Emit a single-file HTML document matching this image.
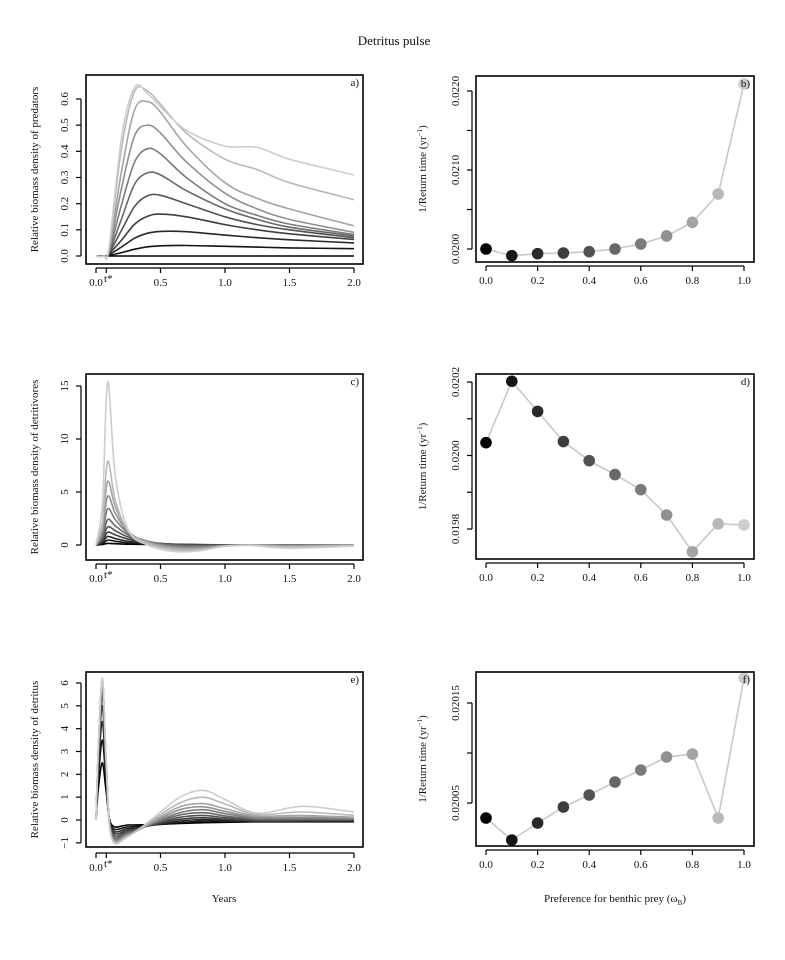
<!DOCTYPE html>
<html><head><meta charset="utf-8"><style>
html,body{margin:0;padding:0;background:#fff;}
svg text{font-family:"Liberation Serif",serif;fill:#111;}
</style></head><body>
<svg id="fig" width="785" height="955" viewBox="0 0 785 955" xmlns="http://www.w3.org/2000/svg">
<rect width="785" height="955" fill="#fff"/>
<text x="394" y="45" font-size="13" text-anchor="middle">Detritus pulse</text>
</svg>
<script>
// ---- data ----
const omegaB = [0,0.1,0.2,0.3,0.4,0.5,0.6,0.7,0.8,0.9,1.0];
const returnRateB = [0.020000,0.019916,0.019941,0.019949,0.019966,0.020000,0.020063,0.020165,0.020338,0.020696,0.022089];
const returnRateD = [0.020035,0.020202,0.020120,0.020038,0.019986,0.019948,0.019907,0.019838,0.019738,0.019814,0.019811];
const returnRateF = [0.020035,0.020013,0.020030,0.020046,0.020058,0.020071,0.020083,0.020096,0.020099,0.020035,0.020175];

const timesA = [0,0.06,0.1,0.2,0.3,0.4,0.5,0.7,1.0,1.25,1.5,2.0];
const predA = [
 [0,0,0,0,0,0,0,0,0,0,0,0],
 [0,0,0.002,0.013,0.026,0.035,0.039,0.040,0.037,0.034,0.031,0.028],
 [0,0,0.005,0.035,0.068,0.087,0.094,0.093,0.080,0.070,0.062,0.050],
 [0,0,0.008,0.062,0.122,0.152,0.160,0.150,0.120,0.100,0.085,0.063],
 [0,0,0.010,0.100,0.190,0.230,0.232,0.200,0.150,0.120,0.100,0.070],
 [0,0,0.012,0.145,0.275,0.318,0.310,0.250,0.180,0.140,0.110,0.077],
 [0,0,0.015,0.200,0.360,0.410,0.390,0.300,0.200,0.155,0.122,0.082],
 [0,0,0.018,0.265,0.460,0.500,0.470,0.360,0.240,0.180,0.140,0.090],
 [0,0,0.022,0.330,0.560,0.590,0.550,0.420,0.280,0.220,0.180,0.115],
 [0,0,0.028,0.420,0.630,0.630,0.580,0.470,0.370,0.330,0.280,0.215],
 [0,0,0.032,0.460,0.645,0.620,0.570,0.480,0.420,0.415,0.370,0.310]
];

const timesC = [0,0.05,0.09,0.15,0.25,0.4,0.6,0.8,1.0,1.2,1.5,2.0];
const detvC = [
 [0,0.05,0.15,0.12,0.08,0.05,0.03,0.02,0.01,0.01,0.01,0.01],
 [0,0.12,0.45,0.35,0.20,0.10,0.05,0.03,0.02,0.02,0.02,0.02],
 [0,0.25,0.80,0.60,0.35,0.18,0.08,0.03,0.02,0.02,0.02,0.02],
 [0,0.35,1.20,0.95,0.55,0.25,0.08,0.02,0.01,0.02,0.02,0.02],
 [0,0.50,1.70,1.35,0.75,0.30,0.05,-0.02,0.00,0.02,0.02,0.02],
 [0,0.70,2.40,1.80,0.95,0.35,0.00,-0.08,-0.02,0.02,0.00,0.02],
 [0,1.00,3.40,2.40,1.10,0.35,-0.10,-0.15,-0.05,0.02,-0.02,0.02],
 [0,1.30,4.60,3.00,1.20,0.30,-0.20,-0.25,-0.08,0.02,-0.05,0.01],
 [0,1.70,6.00,3.60,1.30,0.25,-0.30,-0.35,-0.10,0.00,-0.10,0.00],
 [0,2.20,7.90,4.20,1.30,0.15,-0.45,-0.45,-0.12,-0.02,-0.20,-0.05],
 [0,4.00,15.4,6.50,1.40,0.00,-0.60,-0.55,-0.10,-0.05,-0.30,-0.10]
];

const timesE = [0,0.02,0.05,0.08,0.12,0.25,0.45,0.65,0.83,1.0,1.25,1.6,2.0];
const detrE = [
 [0,1.5,2.5,1.2,-0.20,-0.22,-0.20,-0.15,-0.12,-0.10,-0.08,-0.08,-0.08],
 [0,2.0,3.5,1.5,-0.28,-0.30,-0.22,-0.12,-0.05,-0.06,-0.07,-0.07,-0.06],
 [0,2.5,4.3,1.8,-0.35,-0.38,-0.22,-0.05,0.02,-0.02,-0.05,-0.05,-0.04],
 [0,2.8,5.0,2.0,-0.42,-0.45,-0.20,0.03,0.10,0.03,-0.03,-0.02,-0.02],
 [0,3.0,5.5,2.2,-0.50,-0.50,-0.18,0.12,0.20,0.10,0.00,0.00,0.00],
 [0,3.2,5.8,2.3,-0.57,-0.55,-0.15,0.22,0.32,0.18,0.03,0.03,0.03],
 [0,3.3,6.0,2.4,-0.63,-0.60,-0.12,0.32,0.45,0.28,0.07,0.07,0.05],
 [0,3.4,6.1,2.4,-0.68,-0.65,-0.08,0.45,0.58,0.38,0.12,0.12,0.08],
 [0,3.4,6.2,2.5,-0.72,-0.68,-0.02,0.58,0.72,0.50,0.18,0.20,0.12],
 [0,3.5,6.2,2.5,-0.76,-0.70,0.05,0.75,1.00,0.70,0.25,0.35,0.20],
 [0,3.5,6.2,2.5,-0.80,-0.72,0.12,1.00,1.30,0.90,0.30,0.60,0.35]
];

const xTicksTime = [0,0.5,1.0,1.5,2.0];
const xTickLabelsTime = ["0.0","0.5","1.0","1.5","2.0"];
const xTicksOmega = [0,0.2,0.4,0.6,0.8,1.0];
const xTickLabelsOmega = ["0.0","0.2","0.4","0.6","0.8","1.0"];
const yTicksA = [0,0.1,0.2,0.3,0.4,0.5,0.6];
const yTickLabelsA = ["0.0","0.1","0.2","0.3","0.4","0.5","0.6"];
const yTicksC = [0,5,10,15];
const yTickLabelsC = ["0","5","10","15"];
const yTicksE = [-1,0,1,2,3,4,5,6];
const yTickLabelsE = ["\u22121","0","1","2","3","4","5","6"];
const yTicksB = [0.0200,0.0205,0.0210,0.0215,0.0220];
const yTickLabelsB = ["0.0200","","0.0210","","0.0220"];
const yTicksD = [0.0198,0.0199,0.0200,0.0201,0.0202];
const yTickLabelsD = ["0.0198","","0.0200","","0.0202"];
const yTicksF = [0.02005,0.02010,0.02015];
const yTickLabelsF = ["0.02005","","0.02015"];
const tStar = 0.08;

// ---- drawing ----
const svg = document.getElementById('fig');
const NS = 'http://www.w3.org/2000/svg';
function mk(tag, attrs, parent){
  const e = document.createElementNS(NS, tag);
  for (const k in attrs) e.setAttribute(k, attrs[k]);
  (parent||svg).appendChild(e);
  return e;
}
function lin(d0,d1,r0,r1){ return v => r0 + (v-d0)/(d1-d0)*(r1-r0); }
function grey(i){ const g = Math.round(i/10*205); return `rgb(${g},${g},${g})`; }
function smoothPath(pts){
  let d = `M${pts[0][0].toFixed(1)},${pts[0][1].toFixed(1)}`;
  for (let i=0;i<pts.length-1;i++){
    const p0=pts[Math.max(i-1,0)], p1=pts[i], p2=pts[i+1], p3=pts[Math.min(i+2,pts.length-1)];
    const c1=[p1[0]+(p2[0]-p0[0])/6, p1[1]+(p2[1]-p0[1])/6];
    const c2=[p2[0]-(p3[0]-p1[0])/6, p2[1]-(p3[1]-p1[1])/6];
    d += ` C${c1[0].toFixed(1)},${c1[1].toFixed(1)} ${c2[0].toFixed(1)},${c2[1].toFixed(1)} ${p2[0].toFixed(1)},${p2[1].toFixed(1)}`;
  }
  return d;
}

function panel(cfg){
  const g = mk('g', {});
  
  
  const [bx0,by0,bx1,by1] = cfg.box;
  const sx = lin(cfg.xd[0],cfg.xd[1],cfg.xr[0],cfg.xr[1]);
  const sy = lin(cfg.yd[0],cfg.yd[1],cfg.yr[0],cfg.yr[1]);
  const data = mk('g', {}, g);
  
  
  if (cfg.lines){
    cfg.lines.forEach((row,i)=>{
      const pts = row.map((v,j)=>[sx(cfg.times[j]), sy(v)]);
      const p = mk('path', {d: smoothPath(pts), fill:'none', stroke: grey(i), 'stroke-width': 1.6}, data);
      
      
    });
  }
  if (cfg.points){
    const pts = cfg.points.map((v,i)=>[sx(omegaB[i]), sy(v)]);
    const l = mk('polyline', {points: pts.map(p=>p.join(',')).join(' '), fill:'none', stroke:'#c8c8c8', 'stroke-width':1.6}, data);
    
    
    pts.forEach((p,i)=>{
      const c = mk('circle', {cx:p[0], cy:p[1], r:5.8, fill:grey(i)}, data);
      
      
    });
  }
  const b = mk('rect', {x:bx0, y:by0, width:bx1-bx0, height:by1-by0, fill:'none', stroke:'#000', 'stroke-width':1.6}, g);
  
  
  const xa = mk('g', {}, g);
  
  
  const ay = cfg.xAxisY;
  mk('line', {x1:sx(cfg.xTicks[0]), x2:sx(cfg.xTicks[cfg.xTicks.length-1]), y1:ay, y2:ay, stroke:'#000','stroke-width':1.2}, xa);
  cfg.xTicks.forEach((t,i)=>{
    mk('line', {x1:sx(t), x2:sx(t), y1:ay, y2:ay+5, stroke:'#000','stroke-width':1.2}, xa);
    const tx = mk('text', {x:sx(t), y:ay+18, 'font-size':11, 'text-anchor':'middle'}, xa);
    tx.textContent = cfg.xLabels[i];
    
    
  });
  if (cfg.tstar){
    mk('line', {x1:sx(tStar), x2:sx(tStar), y1:ay, y2:ay+5, stroke:'#000','stroke-width':1.2}, xa);
    const ts = mk('text', {x:sx(tStar)+2, y:ay+14, 'font-size':11, 'text-anchor':'middle'}, xa);
    ts.textContent = 't*';
    
    
  }
  const ya = mk('g', {}, g);
  
  
  const ax = cfg.yAxisX;
  mk('line', {x1:ax, x2:ax, y1:sy(cfg.yTicks[0]), y2:sy(cfg.yTicks[cfg.yTicks.length-1]), stroke:'#000','stroke-width':1.2}, ya);
  cfg.yTicks.forEach((t,i)=>{
    mk('line', {x1:ax-5, x2:ax, y1:sy(t), y2:sy(t), stroke:'#000','stroke-width':1.2}, ya);
    if (cfg.yLabels[i]){
      const lx = ax-13, ly = sy(t);
      const tx = mk('text', {x:lx, y:ly, 'font-size':11, 'text-anchor':'middle', transform:`rotate(-90 ${lx} ${ly})`}, ya);
      tx.textContent = cfg.yLabels[i];
      
      
    }
  });
  const tx = cfg.yTitleX, ty = (by0+by1)/2;
  const yt = mk('text', {x:tx, y:ty, 'font-size':11, 'text-anchor':'middle', transform:`rotate(-90 ${tx} ${ty})`}, g);
  yt.innerHTML = cfg.yTitle;
  
  
  const pl = mk('text', {x:bx1-4, y:by0+11, 'font-size':11, 'text-anchor':'end'}, g);
  pl.textContent = cfg.letter;
  
  
}

const rt = '1/Return time  (yr<tspan font-size="7" dy="-4">−1</tspan><tspan dy="4">)</tspan>';
panel({name:'panel-a', box:[86,75,363,264], xd:[0,2], xr:[96,354], yd:[0,0.6], yr:[256,99],
  xAxisY:268, yAxisX:81, xTicks:xTicksTime, xLabels:xTickLabelsTime, tstar:true,
  yTicks:yTicksA, yLabels:yTickLabelsA, yTitleX:38, yTitle:'Relative biomass density of predators',
  lines:predA, times:timesA, letter:'a)'});
panel({name:'panel-c', box:[86,374,363,560], xd:[0,2], xr:[96,354], yd:[0,15], yr:[545,386],
  xAxisY:564, yAxisX:81, xTicks:xTicksTime, xLabels:xTickLabelsTime, tstar:true,
  yTicks:yTicksC, yLabels:yTickLabelsC, yTitleX:38, yTitle:'Relative biomass density of detritivores',
  lines:detvC, times:timesC, letter:'c)'});
panel({name:'panel-e', box:[86,672,363,847], xd:[0,2], xr:[96,354], yd:[0,6], yr:[820,683],
  xAxisY:853, yAxisX:81, xTicks:xTicksTime, xLabels:xTickLabelsTime, tstar:true,
  yTicks:yTicksE, yLabels:yTickLabelsE, yTitleX:38, yTitle:'Relative biomass density of detritus',
  lines:detrE, times:timesE, letter:'e)'});
panel({name:'panel-b', box:[476,76,754,262], xd:[0,1], xr:[486,744], yd:[0.02,0.022], yr:[249,91],
  xAxisY:266, yAxisX:472, xTicks:xTicksOmega, xLabels:xTickLabelsOmega,
  yTicks:yTicksB, yLabels:yTickLabelsB, yTitleX:426, yTitle:rt, points:returnRateB, letter:'b)'});
panel({name:'panel-d', box:[476,374,754,559], xd:[0,1], xr:[486,744], yd:[0.0198,0.0202], yr:[529,382],
  xAxisY:563, yAxisX:472, xTicks:xTicksOmega, xLabels:xTickLabelsOmega,
  yTicks:yTicksD, yLabels:yTickLabelsD, yTitleX:426, yTitle:rt, points:returnRateD, letter:'d)'});
panel({name:'panel-f', box:[476,672,754,846], xd:[0,1], xr:[486,744], yd:[0.02005,0.02015], yr:[803,703],
  xAxisY:850, yAxisX:472, xTicks:xTicksOmega, xLabels:xTickLabelsOmega,
  yTicks:yTicksF, yLabels:yTickLabelsF, yTitleX:426, yTitle:rt, points:returnRateF, letter:'f)'});

const xt1 = mk('text', {x:224, y:902, 'font-size':11, 'text-anchor':'middle'});
xt1.textContent = 'Years';


const xt2 = mk('text', {x:615, y:902, 'font-size':11, 'text-anchor':'middle'});
xt2.innerHTML = 'Preference for benthic prey (ω<tspan font-size="7" dy="3">B</tspan><tspan dy="-3">)</tspan>';


</script>
</body></html>
